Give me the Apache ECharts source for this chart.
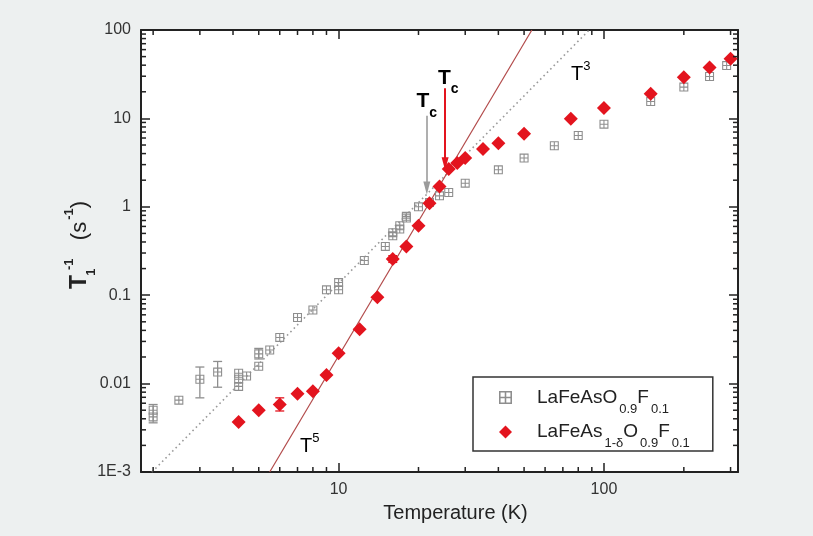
<!DOCTYPE html>
<html>
<head>
<meta charset="utf-8">
<script src="https://cdn.jsdelivr.net/npm/echarts@6/dist/echarts.min.js"></script>
<style>
  html, body { margin: 0; padding: 0; background: #edf0f0; }
  #chart { width: 813px; height: 536px; }
</style>
</head>
<body>
<div id="chart"></div>
<script>
// Spin-lattice relaxation rate T1^-1 against temperature, log-log scales.

// LaFeAsO0.9F0.1 (open squares with cross)
const tempUndoped = [2, 2, 2.5, 3, 3.5, 4.2, 4.2, 4.2, 4.5, 5, 5, 5.5, 6, 7, 8, 9, 10, 10,
  12.5, 15, 16, 16, 17, 17, 18, 18, 20, 22, 24, 26, 30, 40, 50, 65, 80, 100, 150, 200, 250, 290];
const rateUndoped = [0.0050, 0.0042, 0.0065, 0.0112, 0.0135, 0.0131, 0.0112, 0.0093, 0.0122, 0.0217, 0.0157, 0.024, 0.0333, 0.056, 0.068, 0.115, 0.115, 0.139,
  0.247, 0.356, 0.47, 0.51, 0.56, 0.61, 0.745, 0.78, 1.0, 1.12, 1.33, 1.45, 1.85, 2.62, 3.56, 4.9, 6.4, 8.6, 15.5, 22.6, 29.8, 39.6];

// LaFeAs1-δO0.9F0.1 (filled diamonds)
const tempDeficient = [4.2, 5, 6, 7, 8, 9, 10, 12, 14, 16, 18, 20, 22, 24, 26, 28, 30, 35, 40, 50, 75, 100, 150, 200, 250, 300];
const rateDeficient = [0.00367, 0.0050, 0.0058, 0.0077, 0.0082, 0.0125, 0.0221, 0.0413, 0.095, 0.256, 0.356, 0.61, 1.10, 1.70, 2.67, 3.12, 3.56, 4.5, 5.25, 6.7, 9.9, 13.1, 19.0, 29.3, 37.7, 47.2];

// error bars: [temperature, low, high]
const errUndoped = [[2, 0.0036, 0.0058], [3, 0.0069, 0.0154], [3.5, 0.0091, 0.0178], [5, 0.0190, 0.0250]];
const errDeficient = [[6, 0.0049, 0.0069], [16, 0.235, 0.28]];

// power-law guides, end points
const fitT5 = [[5.5, 0.001], [53.5, 100]];
const fitT3 = [[1.98, 0.001], [88, 100]];

// Tc arrows: [start, end]
const arrowUndoped = [[21.5, 10.7], [21.5, 1.63]];
const arrowDeficient = [[25.2, 22], [25.2, 3.07]];

// annotation anchors and texts
const notePos = [[7.78, 0.00194], [81.8, 31.1], [21.5, 15.5], [25.9, 28.6]];
const noteText = ['{b|T}{sp|5}', '{b|T}{sp|3}', '{bb|T}{sb|c}', '{bb|T}{sb|c}'];

// axis ticks
const yTickLabels = ['1E-3', '0.01', '0.1', '1', '10', '100'];
const xMinorTicks = [2, 3, 4, 5, 6, 7, 8, 9, 20, 30, 40, 50, 60, 70, 80, 90, 200, 300];
const yMinorTicks = [];
[0.001, 0.01, 0.1, 1, 10].forEach(function (d) {
  for (let k = 2; k <= 9; k++) yMinorTicks.push(+(d * k).toPrecision(3));
});

const X_MIN = 1.8, X_MAX = 320, Y_MIN = 0.001, Y_MAX = 100;
const FONT = '"Liberation Sans", Arial, sans-serif';
const INK = '#222';
const GRAY = '#8e8e8e';
const RED = '#e3141e';

// square outline with an inner cross, built from filled strips
const crossBox = 'path://M0,0H10V1.2H0Z M0,8.8H10V10H0Z M0,0H1.2V10H0Z M8.8,0H10V10H8.8Z M4.4,0H5.6V10H4.4Z M0,4.4H10V5.6H0Z';

const chart = echarts.init(document.getElementById('chart'), null, { renderer: 'canvas' });

function pairs(xs, ys) { return xs.map(function (x, i) { return [x, ys[i]]; }); }

function errorBars(color) {
  return function (params, api) {
    const x = api.value(0);
    const lo = api.coord([x, api.value(1)]);
    const hi = api.coord([x, api.value(2)]);
    const w = 4.5;
    const st = { stroke: color, lineWidth: 1.3 };
    return { type: 'group', children: [
      { type: 'line', shape: { x1: lo[0], y1: lo[1], x2: hi[0], y2: hi[1] }, style: st },
      { type: 'line', shape: { x1: lo[0] - w, y1: lo[1], x2: lo[0] + w, y2: lo[1] }, style: st },
      { type: 'line', shape: { x1: hi[0] - w, y1: hi[1], x2: hi[0] + w, y2: hi[1] }, style: st }
    ] };
  };
}

const tickStyle = { stroke: INK, lineWidth: 1.5 };
const MINOR = 5;

function xMinorTick(params, api) {
  const v = api.value(0);
  const b = api.coord([v, Y_MIN]);
  const t = api.coord([v, Y_MAX]);
  return { type: 'group', children: [
    { type: 'line', shape: { x1: b[0], y1: b[1], x2: b[0], y2: b[1] - MINOR }, style: tickStyle },
    { type: 'line', shape: { x1: t[0], y1: t[1], x2: t[0], y2: t[1] + MINOR }, style: tickStyle }
  ] };
}

function yMinorTick(params, api) {
  const v = api.value(1);
  const l = api.coord([X_MIN, v]);
  const r = api.coord([X_MAX, v]);
  return { type: 'group', children: [
    { type: 'line', shape: { x1: l[0], y1: l[1], x2: l[0] + MINOR, y2: l[1] }, style: tickStyle },
    { type: 'line', shape: { x1: r[0], y1: r[1], x2: r[0] - MINOR, y2: r[1] }, style: tickStyle }
  ] };
}

const noteRich = {
  b: { fontFamily: FONT, fontSize: 20, color: INK, lineHeight: 19, verticalAlign: 'middle' },
  sp: { fontFamily: FONT, fontSize: 13, color: INK, height: 2, lineHeight: 2, verticalAlign: 'top' },
  bb: { fontFamily: FONT, fontSize: 21, fontWeight: 'bold', color: INK, lineHeight: 25, verticalAlign: 'middle' },
  sb: { fontFamily: FONT, fontSize: 14, fontWeight: 'bold', color: INK, height: 2, lineHeight: 2, verticalAlign: 'bottom' }
};

function noteItem(params, api) {
  const p = api.coord([api.value(0), api.value(1)]);
  return { type: 'text', x: p[0], y: p[1], style: {
    text: noteText[params.dataIndex], rich: noteRich, align: 'center', verticalAlign: 'middle'
  } };
}

function axisCommon(extra) {
  return Object.assign({
    type: 'log', logBase: 10,
    axisLine: { show: true, onZero: false, lineStyle: { color: INK, width: 2 } },
    axisTick: { show: true, inside: true, length: 9, lineStyle: { color: INK, width: 1.5 } },
    splitLine: { show: false },
    minorTick: { show: false },
    minorSplitLine: { show: false }
  }, extra);
}

const legendNames = ['LaFeAsO0.9F0.1', 'LaFeAs1-δO0.9F0.1'];
const legendRich = {
  m: { fontFamily: FONT, fontSize: 19, color: INK, lineHeight: 25, verticalAlign: 'middle' },
  s: { fontFamily: FONT, fontSize: 13, color: INK, height: 2, lineHeight: 2, verticalAlign: 'bottom', padding: [0, 0, 0, 2] }
};
const legendText = {
  'LaFeAsO0.9F0.1': '{m|LaFeAsO}{s|0.9}{m|F}{s|0.1}',
  'LaFeAs1-δO0.9F0.1': '{m|LaFeAs}{s|1-δ}{m|O}{s|0.9}{m|F}{s|0.1}'
};

const option = {
  backgroundColor: '#edf0f0',
  animation: false,
  grid: { left: 141, top: 30, right: 75, bottom: 64, show: true, backgroundColor: '#ffffff', borderWidth: 0, outerBoundsMode: 'none', containLabel: false },
  xAxis: [
    axisCommon({
      position: 'bottom', min: X_MIN, max: X_MAX,
      name: 'Temperature (K)', nameLocation: 'middle', nameGap: 31, nameMoveOverlap: false,
      nameTextStyle: { fontFamily: FONT, fontSize: 20, color: INK, padding: [0, 0, 0, 32] },
      axisLabel: { show: true, margin: 10, fontFamily: FONT, fontSize: 16, color: '#333',
        showMinLabel: false, showMaxLabel: false,
        formatter: function (v) { return String(Math.round(v)); } }
    }),
    axisCommon({ position: 'top', min: X_MIN, max: X_MAX, axisLabel: { show: false } })
  ],
  yAxis: [
    axisCommon({
      position: 'left', min: Y_MIN, max: Y_MAX,
      name: '{t|T}{sb|1}{sp|-1}{g|   }{m|(s}{sp|-1}{m|)}', nameLocation: 'middle', nameGap: 49, nameRotate: 90, nameMoveOverlap: false,
      nameTextStyle: { padding: [0, 0, 0, 12], rich: {
        t: { fontFamily: FONT, fontSize: 23, fontWeight: 'bold', color: INK, lineHeight: 24, verticalAlign: 'middle' },
        m: { fontFamily: FONT, fontSize: 22, color: INK, lineHeight: 24, verticalAlign: 'middle' },
        g: { fontFamily: FONT, fontSize: 22, color: INK, lineHeight: 24, verticalAlign: 'middle' },
        sb: { fontFamily: FONT, fontSize: 13, fontWeight: 'bold', color: INK, width: 0.01, height: 2, lineHeight: 2, verticalAlign: 'bottom', padding: [0, 0, 0, 3] },
        sp: { fontFamily: FONT, fontSize: 13, fontWeight: 'bold', color: INK, height: 2, lineHeight: 2, verticalAlign: 'top', padding: [0, 0, 0, 2] }
      } },
      axisLabel: { show: true, margin: 10, fontFamily: FONT, fontSize: 16, color: '#333',
        formatter: function (v) { return yTickLabels[Math.round(Math.log10(v)) + 3]; } }
    }),
    axisCommon({ position: 'right', min: Y_MIN, max: Y_MAX, axisLabel: { show: false } })
  ],
  legend: {
    orient: 'vertical', left: 473, top: 377,
    padding: [11, 23, 1, 26],
    itemWidth: 13, itemHeight: 13, itemGap: 7,
    backgroundColor: '#ffffff', borderColor: '#333', borderWidth: 1.5,
    selectedMode: false,
    data: [{ name: legendNames[0], icon: crossBox }, { name: legendNames[1], icon: 'diamond' }],
    formatter: function (name) { return legendText[name]; },
    textStyle: { padding: [0, 0, 0, 20], rich: legendRich }
  },
  series: [
    { type: 'custom', name: 'xticks', renderItem: xMinorTick, data: xMinorTicks.map(function (v) { return [v, Y_MIN]; }), clip: false, silent: true, z: 10 },
    { type: 'custom', name: 'yticks', renderItem: yMinorTick, data: yMinorTicks.map(function (v) { return [X_MIN, v]; }), clip: false, silent: true, z: 10 },
    { type: 'line', name: 'T3', data: fitT3, symbol: 'none', silent: true, z: 1,
      lineStyle: { color: '#9a9a9a', width: 1.6, type: [1.6, 3.2] } },
    { type: 'line', name: 'T5', data: fitT5, symbol: 'none', silent: true, z: 1,
      lineStyle: { color: '#b24a4a', width: 1.2 },
      markLine: {
        silent: true, animation: false, symbol: ['none', 'triangle'], symbolSize: [7, 13],
        label: { show: false },
        data: [
          [{ coord: arrowUndoped[0], lineStyle: { color: '#9b9b9b', width: 1.6, type: 'solid' }, itemStyle: { color: '#9b9b9b' } },
           { coord: arrowUndoped[1] }],
          [{ coord: arrowDeficient[0], lineStyle: { color: RED, width: 2, type: 'solid' }, itemStyle: { color: RED } },
           { coord: arrowDeficient[1] }]
        ]
      } },
    { type: 'custom', name: 'errUndoped', renderItem: errorBars('#8e8e8e'), data: errUndoped, encode: { x: 0, y: [1, 2] }, silent: true, z: 3 },
    { type: 'scatter', name: legendNames[0], data: pairs(tempUndoped, rateUndoped), symbol: crossBox, symbolSize: 9,
      itemStyle: { color: GRAY, opacity: 1 }, z: 4 },
    { type: 'custom', name: 'errDeficient', renderItem: errorBars(RED), data: errDeficient, encode: { x: 0, y: [1, 2] }, silent: true, z: 5 },
    { type: 'scatter', name: legendNames[1], data: pairs(tempDeficient, rateDeficient), symbol: 'diamond', symbolSize: 14,
      itemStyle: { color: RED, opacity: 1 }, z: 6 },
    { type: 'custom', name: 'notes', renderItem: noteItem, data: notePos, clip: false, silent: true, z: 7 }
  ]
};

chart.setOption(option);
</script>
</body>
</html>
